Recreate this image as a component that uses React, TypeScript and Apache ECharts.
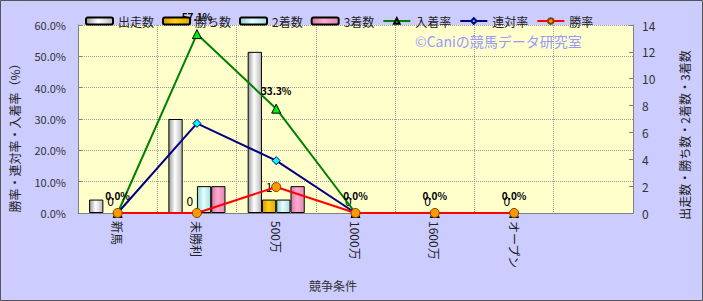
import React, { useEffect, useRef } from "react";
import * as echarts from "echarts";

const categories = ["新馬", "未勝利", "500万", "1000万", "1600万", "オープン", ""];
const starts = [1, 7, 12, 0, 0, 0];
const wins = [0, 0, 1, 0, 0, 0];
const seconds = [0, 2, 1, 0, 0, 0];
const thirds = [0, 2, 2, 0, 0, 0];
const placeRate = [0, 57.1, 33.3, 0, 0, 0];
const quinellaRate = [0, 28.6, 16.7, 0, 0, 0];
const winRate = [0, 0, 8.3, 0, 0, 0];
const leftTicks = { min: 0, max: 60, interval: 10 };
const rightTicks = { min: 0, max: 14, interval: 2 };

const FONT = "'Noto Sans CJK JP', 'Noto Sans', sans-serif";

function grad(edge: string, mid: string, edge2: string) {
  return new echarts.graphic.LinearGradient(0, 0, 1, 0, [
    { offset: 0, color: edge },
    { offset: 0.45, color: mid },
    { offset: 1, color: edge2 },
  ]);
}

// zero-height bars should not draw a border line along the axis
const barData = (arr: number[]) =>
  arr.map((v) => (v === 0 ? { value: v, itemStyle: { borderWidth: 0 } } : v));

export default function App() {
  const ref = useRef<HTMLDivElement>(null);
  useEffect(() => {
    if (!ref.current) return;
    const chart = echarts.init(ref.current, undefined, { renderer: "svg" });
    const barBase = {
      type: "bar",
      yAxisIndex: 1,
      barGap: "0%",
      barCategoryGap: "28%",
      itemStyle: { borderColor: "#000", borderWidth: 1 },
    };
    chart.setOption({
      animation: false,
      backgroundColor: "#ccccff",
      textStyle: { fontFamily: FONT },
      grid: {
        left: 78,
        right: 70,
        top: 25,
        bottom: 88,
        show: true,
        backgroundColor: "#ffffcc",
        borderWidth: 0,
      },
      legend: {
        top: 10,
        left: 80,
        itemWidth: 27,
        itemHeight: 7,
        itemGap: 8,
        textStyle: { fontSize: 12, color: "#222", fontFamily: FONT },
        data: ["出走数", "勝ち数", "2着数", "3着数", "入着率", "連対率", "勝率"],
      },
      xAxis: {
        type: "category",
        data: categories,
        axisLine: { lineStyle: { color: "#808080", width: 1 } },
        axisTick: { show: false },
        axisLabel: { rotate: -90, fontSize: 12, color: "#222", margin: 8, interval: 0 },
        splitLine: { show: true, interval: 0, lineStyle: { color: "#999", type: "dotted" } },
      },
      yAxis: [
        {
          type: "value",
          ...leftTicks,
          position: "left",
          axisLine: { show: true, lineStyle: { color: "#808080" } },
          axisTick: { show: true, inside: true, length: 4, lineStyle: { color: "#808080" } },
          axisLabel: {
            fontSize: 11,
            color: "#333",
            margin: 12,
            formatter: (v: number) => v.toFixed(1) + "%",
          },
          splitLine: { show: true, lineStyle: { color: "#999", type: "dotted" } },
        },
        {
          type: "value",
          ...rightTicks,
          position: "right",
          axisLine: { show: true, lineStyle: { color: "#808080" } },
          axisTick: { show: true, inside: true, length: 4, lineStyle: { color: "#808080" } },
          axisLabel: { fontSize: 12, color: "#333", margin: 9 },
          splitLine: { show: false },
        },
      ],
      graphic: [
        {
          type: "text",
          left: 415,
          top: 34,
          z: 5,
          style: { text: "©Caniの競馬データ研究室", font: `14px ${FONT}`, fill: "#9999ff" },
        },
        {
          type: "text",
          x: 14,
          y: 135,
          rotation: Math.PI / 2,
          style: {
            text: "勝率・連対率・入着率（%）",
            font: `12px ${FONT}`,
            fill: "#222",
            align: "center",
            verticalAlign: "middle",
          },
        },
        {
          type: "text",
          x: 684,
          y: 135,
          rotation: Math.PI / 2,
          style: {
            text: "出走数・勝ち数・2着数・3着数",
            font: `12px ${FONT}`,
            fill: "#222",
            align: "center",
            verticalAlign: "middle",
          },
        },
        {
          type: "text",
          x: 333,
          y: 285,
          style: {
            text: "競争条件",
            font: `12px ${FONT}`,
            fill: "#333",
            align: "center",
            verticalAlign: "middle",
          },
        },
        {
          type: "rect",
          shape: { x: 0.5, y: 0.5, width: 702, height: 300 },
          silent: true,
          z: 100,
          style: { fill: "none", stroke: "#555", lineWidth: 1 },
        },
      ],
      series: [
        {
          ...barBase,
          name: "出走数",
          data: barData(starts),
          itemStyle: { ...barBase.itemStyle, color: grad("#9a9a9a", "#ffffff", "#b8b8b8") },
        },
        {
          ...barBase,
          name: "勝ち数",
          data: barData(wins),
          itemStyle: { ...barBase.itemStyle, color: grad("#d99a00", "#ffd21a", "#e0a800") },
          label: {
            show: true,
            position: "top",
            distance: 7,
            fontSize: 12,
            color: "#000",
          },
        },
        {
          ...barBase,
          name: "2着数",
          data: barData(seconds),
          itemStyle: { ...barBase.itemStyle, color: grad("#8fcfcf", "#e6ffff", "#a6dede") },
        },
        {
          ...barBase,
          name: "3着数",
          data: barData(thirds),
          itemStyle: { ...barBase.itemStyle, color: grad("#d77aa6", "#ffaad2", "#e088b2") },
        },
        {
          type: "line",
          name: "入着率",
          yAxisIndex: 0,
          data: placeRate,
          symbol: "triangle",
          symbolSize: 9,
          lineStyle: { color: "#008000", width: 2 },
          itemStyle: { color: "#00ee00", borderColor: "#000", borderWidth: 1 },
          label: {
            show: true,
            position: "top",
            distance: 8,
            fontSize: 10,
            fontWeight: "bold",
            color: "#000",
            formatter: (p: any) => Number(p.value).toFixed(1) + "%",
          },
          z: 3,
        },
        {
          type: "line",
          name: "連対率",
          yAxisIndex: 0,
          data: quinellaRate,
          symbol: "diamond",
          symbolSize: 8,
          lineStyle: { color: "#000080", width: 2 },
          itemStyle: { color: "#00ffff", borderColor: "#000080", borderWidth: 1 },
          z: 4,
        },
        {
          type: "line",
          name: "勝率",
          yAxisIndex: 0,
          data: winRate,
          symbol: "circle",
          symbolSize: 9,
          lineStyle: { color: "#ff0000", width: 2 },
          itemStyle: { color: "#ff9900", borderColor: "#804000", borderWidth: 1 },
          z: 5,
        },
      ],
    });
    return () => chart.dispose();
  }, []);
  return (
    <div
      ref={ref}
      style={{ position: "fixed", left: 0, top: 0, width: 703, height: 301 }}
    />
  );
}
